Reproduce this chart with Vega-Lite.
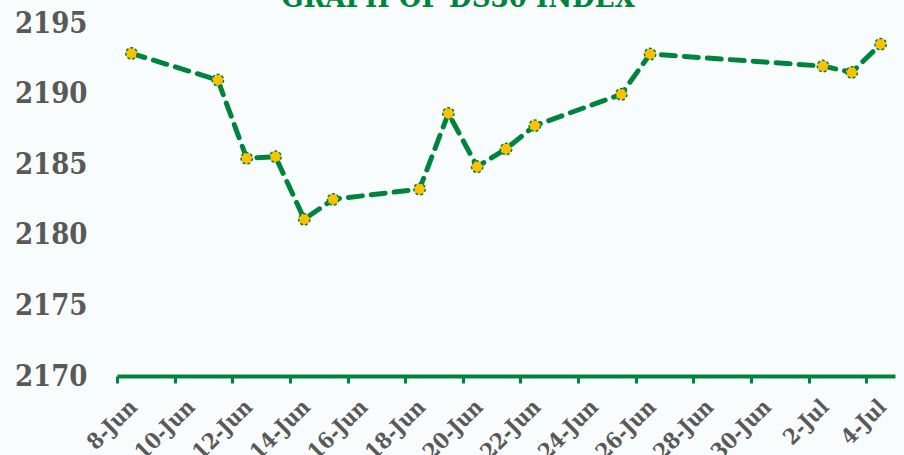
{
  "$schema": "https://vega.github.io/schema/vega-lite/v6.json",
  "width": 778,
  "height": 353,
  "autosize": {"type": "none"},
  "padding": {"left": 117, "top": 23, "right": 9, "bottom": 79},
  "background": "#f9fcfc",
  "title": {
    "text": "GRAPH OF DS30 INDEX",
    "font": "DejaVu Serif Condensed, DejaVu Serif",
    "fontSize": 29,
    "fontWeight": "bold",
    "color": "#00843D",
    "anchor": "middle",
    "frame": "group",
    "baseline": "alphabetic",
    "offset": 0,
    "dy": 27,
    "dx": -48
  },
  "data": {
    "values": [
      {"date": "2023-06-08T12:00:00", "value": 2192.85},
      {"date": "2023-06-11T12:00:00", "value": 2190.96},
      {"date": "2023-06-12T12:00:00", "value": 2185.42},
      {"date": "2023-06-13T12:00:00", "value": 2185.53},
      {"date": "2023-06-14T12:00:00", "value": 2181.10},
      {"date": "2023-06-15T12:00:00", "value": 2182.51},
      {"date": "2023-06-18T12:00:00", "value": 2183.24},
      {"date": "2023-06-19T12:00:00", "value": 2188.60},
      {"date": "2023-06-20T12:00:00", "value": 2184.82},
      {"date": "2023-06-21T12:00:00", "value": 2186.08},
      {"date": "2023-06-22T12:00:00", "value": 2187.73},
      {"date": "2023-06-25T12:00:00", "value": 2189.95},
      {"date": "2023-06-26T12:00:00", "value": 2192.80},
      {"date": "2023-07-02T12:00:00", "value": 2191.95},
      {"date": "2023-07-03T12:00:00", "value": 2191.50},
      {"date": "2023-07-04T12:00:00", "value": 2193.50}
    ]
  },
  "encoding": {
    "x": {
      "field": "date",
      "type": "temporal",
      "scale": {
        "domain": [
          {"year": 2023, "month": 6, "date": 8},
          {"year": 2023, "month": 7, "date": 5}
        ]
      },
      "axis": {
        "title": null,
        "format": "%-d-%b",
        "values": [
          {"year": 2023, "month": 6, "date": 8},
          {"year": 2023, "month": 6, "date": 10},
          {"year": 2023, "month": 6, "date": 12},
          {"year": 2023, "month": 6, "date": 14},
          {"year": 2023, "month": 6, "date": 16},
          {"year": 2023, "month": 6, "date": 18},
          {"year": 2023, "month": 6, "date": 20},
          {"year": 2023, "month": 6, "date": 22},
          {"year": 2023, "month": 6, "date": 24},
          {"year": 2023, "month": 6, "date": 26},
          {"year": 2023, "month": 6, "date": 28},
          {"year": 2023, "month": 6, "date": 30},
          {"year": 2023, "month": 7, "date": 2},
          {"year": 2023, "month": 7, "date": 4}
        ],
        "grid": false,
        "domainColor": "#00843D",
        "domainWidth": 4,
        "tickColor": "#00843D",
        "tickWidth": 3,
        "tickSize": 7,
        "labelAngle": -45,
        "labelAlign": "right",
        "labelBaseline": "middle",
        "labelOffset": 16,
        "labelPadding": 20,
        "labelFont": "DejaVu Serif Condensed, DejaVu Serif",
        "labelFontSize": 22,
        "labelFontWeight": "bold",
        "labelColor": "#595959",
        "labelOverlap": false,
        "labelBound": false,
        "labelFlush": false
      }
    },
    "y": {
      "field": "value",
      "type": "quantitative",
      "scale": {"domain": [2170, 2195], "nice": false, "zero": false},
      "axis": {
        "title": null,
        "format": "d",
        "values": [2170, 2175, 2180, 2185, 2190, 2195],
        "grid": false,
        "domain": false,
        "ticks": false,
        "labelPadding": 30,
        "labelFont": "DejaVu Serif Condensed, DejaVu Serif",
        "labelFontSize": 29,
        "labelFontWeight": "bold",
        "labelColor": "#595959",
        "labelFlush": false
      }
    }
  },
  "layer": [
    {
      "mark": {
        "type": "line",
        "color": "#00843D",
        "strokeWidth": 5,
        "strokeDash": [14, 9],
        "strokeCap": "round"
      }
    },
    {
      "mark": {
        "type": "point",
        "filled": false,
        "fill": "#FFC000",
        "fillOpacity": 1,
        "stroke": "#00843D",
        "strokeWidth": 1.5,
        "strokeDash": [3, 2],
        "size": 130,
        "opacity": 1
      }
    }
  ],
  "config": {"view": {"stroke": null}}
}
